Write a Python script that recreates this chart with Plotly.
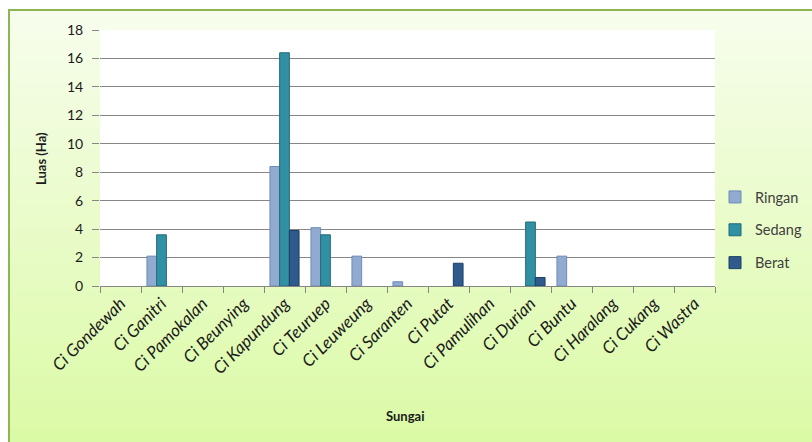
import plotly.graph_objects as go

categories = ["Ci Gondewah", "Ci Ganitri", "Ci Pamokalan", "Ci Beunying", "Ci Kapundung",
              "Ci Teuruep", "Ci Leuweung", "Ci Saranten", "Ci Putat", "Ci Pamulihan",
              "Ci Durian", "Ci Buntu", "Ci Haralang", "Ci Cukang", "Ci Wastra"]
ringan = [None, 2.1, None, None, 8.4, 4.1, 2.1, 0.3, None, None, None, 2.1, None, None, None]
sedang = [None, 3.6, None, None, 16.4, 3.6, None, None, None, None, 4.5, None, None, None, None]
berat = [None, None, None, None, 3.9, None, None, None, 1.6, None, 0.6, None, None, None, None]
y_ticks = list(range(0, 20, 2))

W, H = 812, 442
ML, MR, MT, MB = 100, 97, 30, 156
PW, PH = W - ML - MR, H - MT - MB


def px(x):
    return (x - ML) / PW


def py(y):
    return (H - MB - y) / PH


fig = go.Figure()
series = [("Ringan", ringan, "#90AAD0", "#6E8CB8"),
          ("Sedang", sedang, "#3190A3", "#21697A"),
          ("Berat", berat, "#2E5A8C", "#1E3F66")]
for name, vals, col, lcol in series:
    fig.add_trace(go.Bar(name=name, x=categories, y=vals, legendgroup=name,
                         marker=dict(color=col, line=dict(color=lcol, width=1))))

shapes = []
# gradient chart-area background
top, bot = 10, H + 1
n = 60
c0 = (0xF7, 0xFD, 0xEC)
c1 = (0xDB, 0xFA, 0xA6)
for i in range(n):
    t = i / (n - 1)
    c = tuple(round(c0[k] + (c1[k] - c0[k]) * t) for k in range(3))
    y0 = top + (bot - top) * i / n
    y1 = top + (bot - top) * (i + 1) / n + 0.6
    shapes.append(dict(type="rect", xref="paper", yref="paper", layer="below",
                       x0=px(9), x1=px(W + 2), y0=py(y0), y1=py(y1),
                       fillcolor="rgb(%d,%d,%d)" % c,
                       line=dict(width=0, color="rgba(0,0,0,0)")))
# white plot area
shapes.append(dict(type="rect", xref="paper", yref="paper", layer="below",
                   x0=0, x1=1, y0=0, y1=1, fillcolor="white",
                   line=dict(width=0, color="rgba(0,0,0,0)")))
# chart area border
shapes.append(dict(type="rect", xref="paper", yref="paper", layer="below",
                   x0=px(9), x1=px(W + 5), y0=py(10), y1=py(H + 5),
                   fillcolor="rgba(0,0,0,0)", line=dict(color="#8DB653", width=2)))

font_family = "Lato, 'Open Sans', sans-serif"
fig.update_layout(
    template="none",
    width=W, height=H,
    margin=dict(l=ML, r=MR, t=MT, b=MB, pad=0, autoexpand=False),
    paper_bgcolor="white", plot_bgcolor="rgba(0,0,0,0)",
    barmode="group", bargap=0.29, bargroupgap=0,
    font=dict(family=font_family, color="#1a1a1a"),
    shapes=shapes,
    showlegend=True,
    legend=dict(x=px(715), xanchor="left", y=py(230), yanchor="middle",
                bgcolor="rgba(0,0,0,0)", borderwidth=0, font=dict(size=14.5, color="#404040"),
                tracegroupgap=11, traceorder="grouped", itemwidth=30),
    annotations=[
        dict(text="<b>Luas (Ha)</b>", xref="paper", yref="paper", x=px(41), y=py(159),
             xanchor="center", yanchor="middle",
             showarrow=False, textangle=-90, font=dict(size=13, color="#1a1a1a")),
        dict(text="<b>Sungai</b>", xref="paper", yref="paper", x=px(405), y=py(416),
             xanchor="center", yanchor="middle",
             showarrow=False, font=dict(size=13, color="#1a1a1a")),
    ],
)
fig.update_xaxes(showline=True, linecolor="#868686", linewidth=1, mirror=False,
                 ticks="outside", tickson="boundaries", ticklen=6, tickcolor="#868686",
                 tickangle=-45, tickfont=dict(size=17, style="italic", color="#1a1a1a"),
                 showgrid=False, zeroline=False, fixedrange=True)
fig.update_yaxes(range=[0, 18], tickvals=y_ticks, showgrid=True, gridcolor="#868686",
                 gridwidth=1, zeroline=False, showline=False, mirror=False,
                 ticks="outside", ticklen=7,
                 tickcolor="#868686", ticklabelstandoff=6,
                 tickfont=dict(size=14, color="#1a1a1a"), fixedrange=True)

fig.write_html("out.html")
